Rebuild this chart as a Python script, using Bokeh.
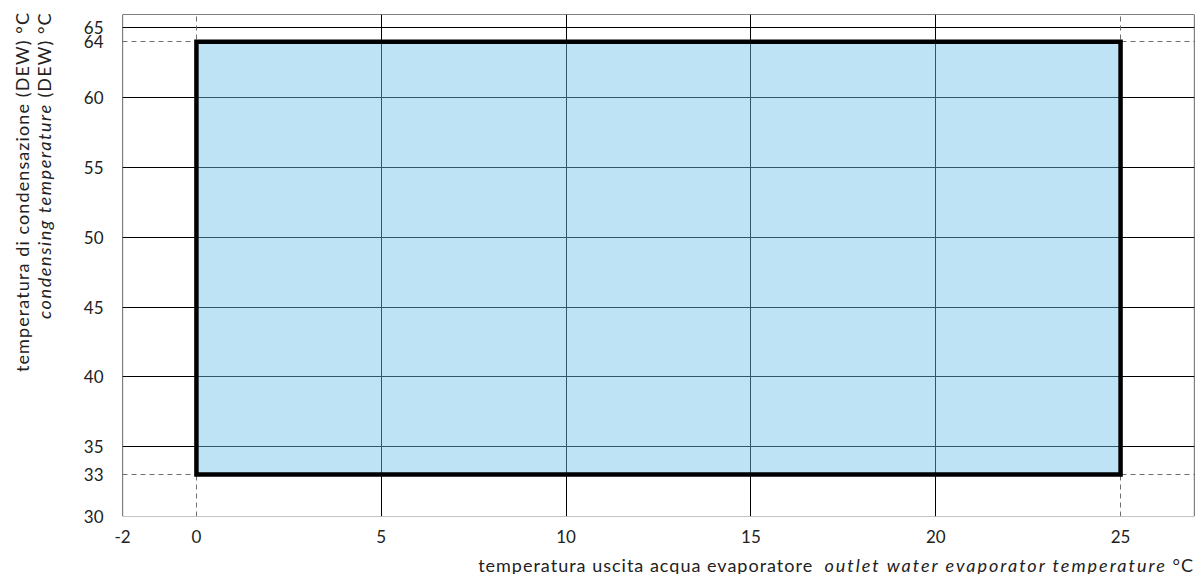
from bokeh.plotting import figure
from bokeh.models import Range1d, FixedTicker, Grid, Span, Div
from bokeh.layouts import row, column
from bokeh.embed import file_html
from bokeh.resources import INLINE

# ---- data ----
x_ticks = [-2, 0, 5, 10, 15, 20, 25]
y_ticks = [30, 33, 35, 40, 45, 50, 55, 60, 64, 65]
x_grid_solid = [5, 10, 15, 20]
y_grid_solid = [35, 40, 45, 50, 55, 60, 65]
envelope_x = [0, 25]      # evaporator outlet water temperature limits
envelope_y = [33, 64]     # condensing temperature limits
x_limits = [-2, 27]
y_limits = [30, 65.95]

x_title_it = "temperatura uscita acqua evaporatore"
x_title_en = "outlet water evaporator temperature"
y_title_it = "temperatura di condensazione (DEW) °C"
y_title_en = "condensing temperature"

FONT = "Lato"
TXT = "#222222"
FS = "17px"

p = figure(width=1136, height=546, output_backend="svg", toolbar_location=None,
           x_range=Range1d(*x_limits), y_range=Range1d(*y_limits),
           min_border_left=62, min_border_right=2, min_border_top=14,
           min_border_bottom=30)
p.background_fill_color = "white"
p.border_fill_color = "white"
p.outline_line_color = None

# grids
p.xgrid.ticker = FixedTicker(ticks=x_grid_solid)
p.ygrid.ticker = FixedTicker(ticks=y_grid_solid)
for g in (p.xgrid, p.ygrid):
    g.grid_line_color = "black"
    g.grid_line_width = 1
    g.grid_line_alpha = 1

dx = Grid(dimension=0, ticker=FixedTicker(ticks=envelope_x),
          grid_line_color="#6e6e6e", grid_line_dash="5 4", grid_line_width=1)
dy = Grid(dimension=1, ticker=FixedTicker(ticks=envelope_y),
          grid_line_color="#6e6e6e", grid_line_dash="5 4", grid_line_width=1)
p.add_layout(dx)
p.add_layout(dy)

# envelope: translucent fill over grid, then thick border
p.quad(left=[envelope_x[0]], right=[envelope_x[1]],
       bottom=[envelope_y[0]], top=[envelope_y[1]],
       fill_color="#6cc1e6", fill_alpha=0.45, line_color=None)
p.quad(left=[envelope_x[0]], right=[envelope_x[1]],
       bottom=[envelope_y[0]], top=[envelope_y[1]],
       fill_color=None, line_color="black", line_width=4.5, line_join="miter")

# frame borders
p.add_layout(Span(location=y_limits[1], dimension="width", line_color="black", line_width=1.2))
p.add_layout(Span(location=x_limits[1], dimension="height", line_color="black", line_width=1.2))
p.add_layout(Span(location=x_limits[0], dimension="height", line_color="black", line_width=1.2))
p.add_layout(Span(location=y_limits[0], dimension="width", line_color="#8c8c8c", line_width=1.2))

# axes
for ax in (p.xaxis, p.yaxis):
    ax.axis_line_color = None
    ax.major_tick_line_color = None
    ax.minor_tick_line_color = None
    ax.major_label_text_font = FONT
    ax.major_label_text_font_size = FS
    ax.major_label_text_color = TXT
p.xaxis.ticker = FixedTicker(ticks=x_ticks)
p.yaxis.ticker = FixedTicker(ticks=y_ticks)
p.xaxis.major_label_overrides = {-2: "-2"}
p.xaxis.major_label_standoff = 7
p.yaxis.major_label_standoff = 13

# axis titles with mixed upright / italic text
xdiv = Div(width=1136, height=28, margin=(0, 0, 0, 0), text=(
    f'<div style="width:1136px;box-sizing:border-box;text-align:right;padding-top:10px;'
    f'padding-right:2px;font-family:{FONT};font-size:18px;line-height:18px;color:{TXT};'
    f'white-space:nowrap;letter-spacing:1px;">{x_title_it}&nbsp; '
    f'<i style="letter-spacing:2px;">{x_title_en}</i> °C</div>'))

ydiv = Div(width=60, height=520, margin=(0, 0, 0, 0), text=(
    f'<div style="writing-mode:vertical-rl;transform:rotate(180deg);width:60px;height:520px;'
    f'box-sizing:border-box;padding-bottom:12px;padding-right:11px;text-align:end;'
    f'font-family:{FONT};font-size:18px;line-height:22px;color:{TXT};white-space:nowrap;'
    f'letter-spacing:1.1px;">'
    f'{y_title_it}<br><i style="letter-spacing:1.6px;">{y_title_en}</i> (DEW) °C</div>'))

layout = row(ydiv, column(p, xdiv, spacing=0), spacing=0)

open("out.html", "w").write(file_html(layout, INLINE))
